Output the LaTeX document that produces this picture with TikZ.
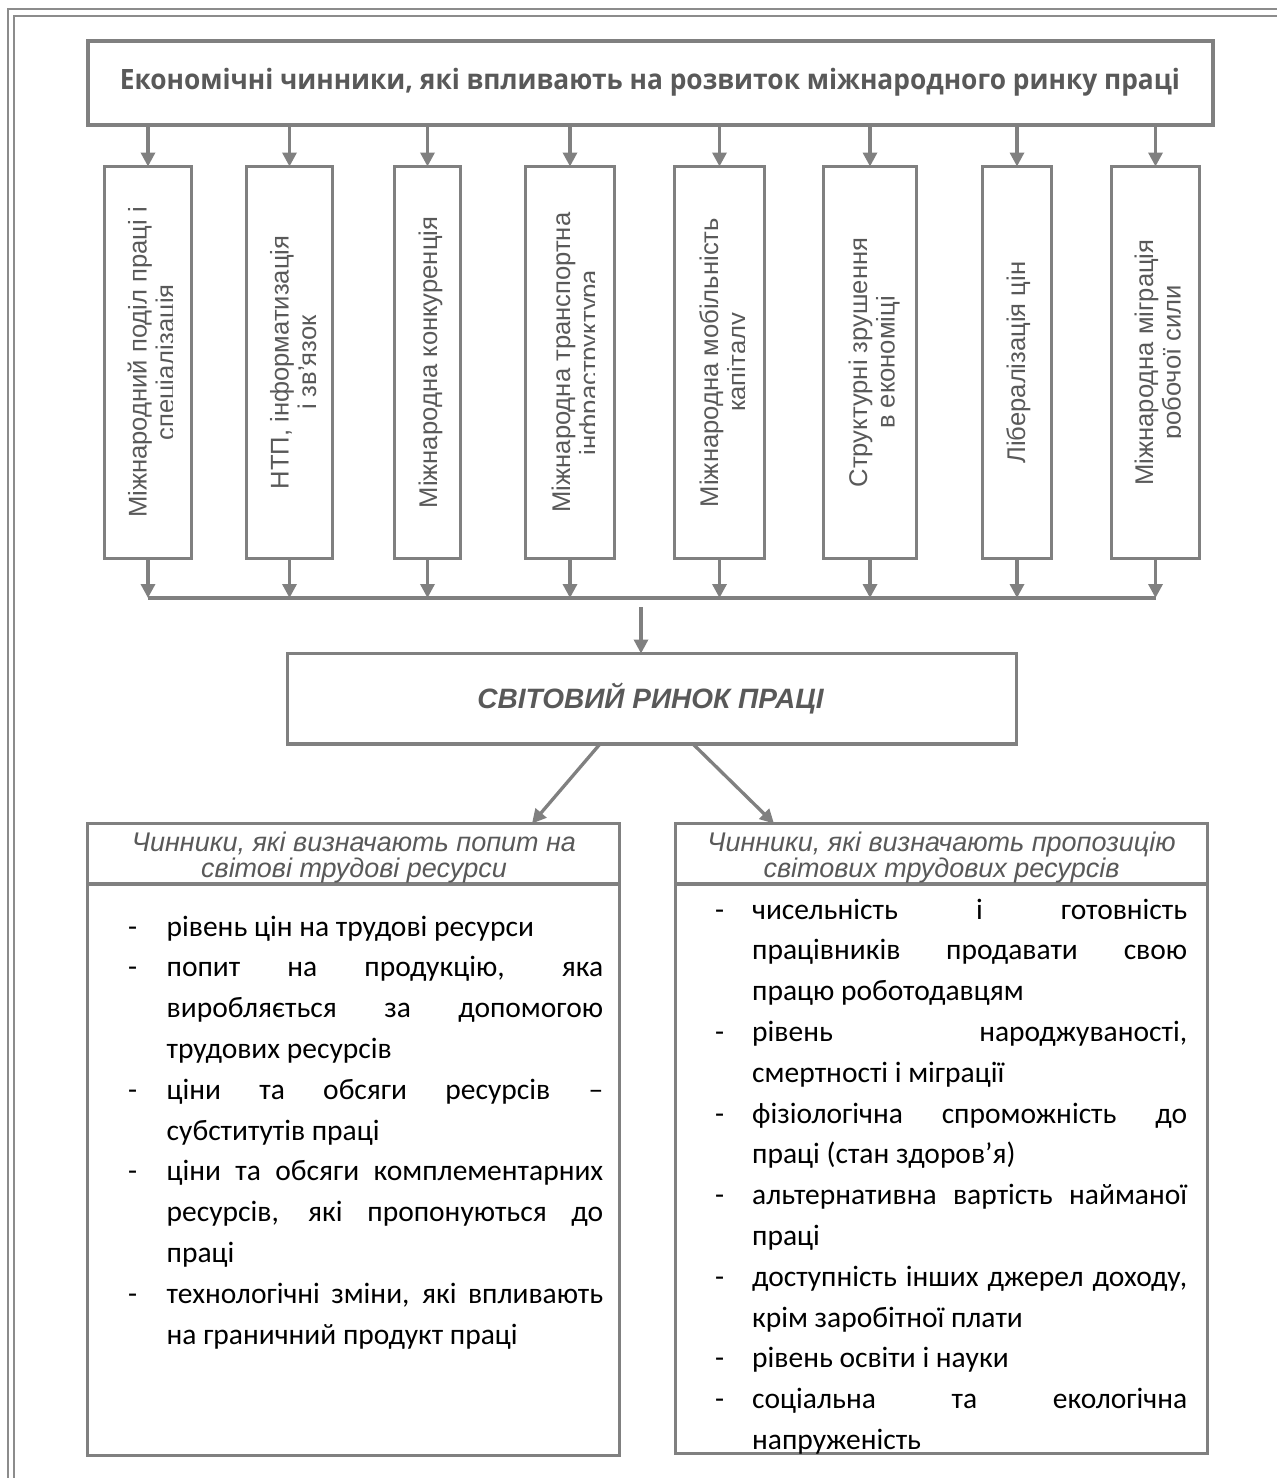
\documentclass[tikz,border=0pt]{standalone}
\usepackage{fontspec}
\setmainfont{Liberation Sans}
\newfontfamily\hdrfont[FakeStretch=0.94]{Open Sans}
\newfontfamily\calf{Carlito}
\usetikzlibrary{arrows.meta}
\definecolor{lc}{HTML}{808080}
\definecolor{fc}{HTML}{8C8C8C}
\definecolor{tc}{HTML}{595959}
\newlength\dw \newlength\tw
\newcommand\myDJ[1]{\makebox[\dw][l]{-}\makebox[\tw][s]{#1}\par}
\newcommand\myDL[1]{\makebox[\dw][l]{-}#1\par}
\newcommand\myCJ[1]{\hspace*{\dw}\makebox[\tw][s]{#1}\par}
\newcommand\myCL[1]{\hspace*{\dw}#1\par}
\newcommand\twol[2]{\parbox[t]{520pt}{\centering #1\\#2}}
\begin{document}
\begin{tikzpicture}[x=1pt,y=-1pt,
  box/.style={draw=lc, line width=3.3pt, fill=white, inner sep=0pt, outer sep=0pt},
  arr/.style={draw=lc, line width=3.3pt, -{Triangle[length=14pt,width=14pt]}},
  ln/.style={draw=lc, line width=3.3pt},
  vt/.style={inner sep=0pt, text=tc, font=\fontsize{25.6}{27.5}\selectfont, rotate=90, anchor=base},
  ht/.style={inner sep=0pt, text=tc, font=\itshape\fontsize{27}{26}\selectfont, anchor=base},
  lst/.style={inner sep=0pt, anchor=base west, font=\calf\fontsize{29.5}{40.8}\selectfont}]
\useasboundingbox (0,0) rectangle (1277,1478);
\fill[white] (0,0) rectangle (1277,1478);
% outer double frame
\draw[fc, line width=2pt] (1277,9) -- (8,9) -- (8,1478);
\draw[fc, line width=2pt] (1277,15.5) -- (14,15.5) -- (14,1478);
% header
\node[box, minimum width=1125pt, minimum height=84pt] (hdr) at (650.5,83) {};
\node[inner sep=0pt, anchor=base, text=tc, font=\hdrfont\bfseries\fontsize{28}{30}\selectfont] (hdrt) at (650,89)
  {Економічні чинники, які впливають на розвиток міжнародного ринку праці};
% vertical boxes
\node[box, minimum width=87pt, minimum height=392pt] (b1) at (148,362.5) {};
\node[box, minimum width=86pt, minimum height=392pt] (b2) at (289.5,362.5) {};
\node[box, minimum width=66pt, minimum height=392pt] (b3) at (427.5,362.5) {};
\node[box, minimum width=89pt, minimum height=392pt] (b4) at (570,362.5) {};
\node[box, minimum width=90pt, minimum height=392pt] (b5) at (719.5,362.5) {};
\node[box, minimum width=93pt, minimum height=392pt] (b6) at (870,362.5) {};
\node[box, minimum width=69pt, minimum height=392pt] (b7) at (1017,362.5) {};
\node[box, minimum width=88pt, minimum height=392pt] (b8) at (1155.5,362.5) {};
% texts of vertical boxes
\begin{scope}
\clip (b1.north west) rectangle ([xshift=24.5pt]b1.south);
\node[vt] (t1) at ([xshift=-1.5pt]b1.center) {\twol{Міжнародний поділ праці і}{спеціалізація}};
\end{scope}
\node[vt] (t2) at ([xshift=-1pt]b2.center) {\twol{НТП, інформатизація}{і зв’язок}};
\node[vt] (t3) at ([xshift=9.5pt]b3.center) {Міжнародна конкуренція};
\begin{scope}
\clip (b4.north west) rectangle ([xshift=24.5pt]b4.south);
\node[vt] (t4) at ([xshift=0pt]b4.center) {\twol{Міжнародна транспортна}{інфраструктура}};
\end{scope}
\begin{scope}
\clip (b5.north west) rectangle ([xshift=24.5pt]b5.south);
\node[vt] (t5) at ([xshift=-1.5pt]b5.center) {\twol{Міжнародна мобільність}{капіталу}};
\end{scope}
\node[vt] (t6) at ([xshift=-3pt]b6.center) {\twol{Структурні зрушення}{в економіці}};
\node[vt] (t7) at ([xshift=8pt]b7.center) {Лібералізація цін};
\begin{scope}
\clip (b8.north west) rectangle ([xshift=24.5pt]b8.south);
\node[vt] (t8) at ([xshift=-2.5pt]b8.center) {\twol{Міжнародна міграція}{робочої сили}};
\end{scope}
% arrows header -> boxes
\foreach \b in {b1,b2,b3,b4,b5,b6,b7,b8}
  \draw[arr] (hdr.south -| \b) -- (\b.north);
% bus
\coordinate (bus) at (0,598);
\foreach \b in {b1,b2,b3,b4,b5,b6,b7,b8}
  \draw[arr] (\b.south) -- (\b.south |- bus);
\draw[ln] (b1.south |- bus) -- (b8.south |- bus);
% world market
\node[box, minimum width=729pt, minimum height=90.5pt] (mk) at (652,698.75) {};
\node[inner sep=0pt, anchor=base, text=tc, font=\bfseries\itshape\fontsize{28}{30}\selectfont] (mkt) at (650.5,708.5) {СВІТОВИЙ РИНОК ПРАЦІ};
\coordinate (mid) at (641,607);
\draw[arr] (mid) -- (mid |- mk.north);
% bottom boxes
\node[box, minimum width=532pt, minimum height=60.5pt] (lh) at (353.8,853.75) {};
\node[box, minimum width=532pt, minimum height=571.5pt] (lb) at (353.8,1169.75) {};
\node[box, minimum width=532pt, minimum height=60.5pt] (rh) at (941.5,853.75) {};
\node[box, minimum width=532pt, minimum height=569.5pt] (rb) at (941.5,1168.75) {};
\coordinate (dla) at (600,0);
\coordinate (dlb) at (532,0);
\coordinate (dra) at (693,0);
\coordinate (drb) at (774,0);
\draw[arr] (mk.south -| dla) -- (lh.north -| dlb);
\draw[arr] (mk.south -| dra) -- (rh.north -| drb);
\node[ht] (lht) at (354,851) {\twol{Чинники, які визначають попит на}{світові трудові ресурси}};
\node[ht] (rht) at (941.5,851) {\twol{Чинники, які визначають пропозицію}{світових трудових ресурсів}};
% lists
\node[lst] (ll) at (128,936) {\setlength\dw{38.5pt}\setlength\tw{436.5pt}%
\parbox[t]{480pt}{\fontsize{29.5}{40.8}\selectfont\setlength\parindent{0pt}\setlength\parskip{0pt}%
\myDL{рівень цін на трудові ресурси}
\myDJ{попит на продукцію, яка}
\myCJ{виробляється за допомогою}
\myCL{трудових ресурсів}
\myDJ{ціни та обсяги ресурсів –}
\myCL{субститутів праці}
\myDJ{ціни та обсяги комплементарних}
\myCJ{ресурсів, які пропонуються до}
\myCL{праці}
\myDJ{технологічні зміни, які впливають}
\myCL{на граничний продукт праці}}};
\node[lst] (rl) at (715,919) {\setlength\dw{37pt}\setlength\tw{435pt}%
\parbox[t]{480pt}{\fontsize{29.5}{40.8}\selectfont\setlength\parindent{0pt}\setlength\parskip{0pt}%
\myDJ{чисельність і готовність}
\myCJ{працівників продавати свою}
\myCL{працю роботодавцям}
\myDJ{рівень народжуваності,}
\myCL{смертності і міграції}
\myDJ{фізіологічна спроможність до}
\myCL{праці (стан здоров’я)}
\myDJ{альтернативна вартість найманої}
\myCL{праці}
\myDJ{доступність інших джерел доходу,}
\myCL{крім заробітної плати}
\myDL{рівень освіти і науки}
\myDJ{соціальна та екологічна}
\myCL{напруженість}}};
\end{tikzpicture}
\end{document}
